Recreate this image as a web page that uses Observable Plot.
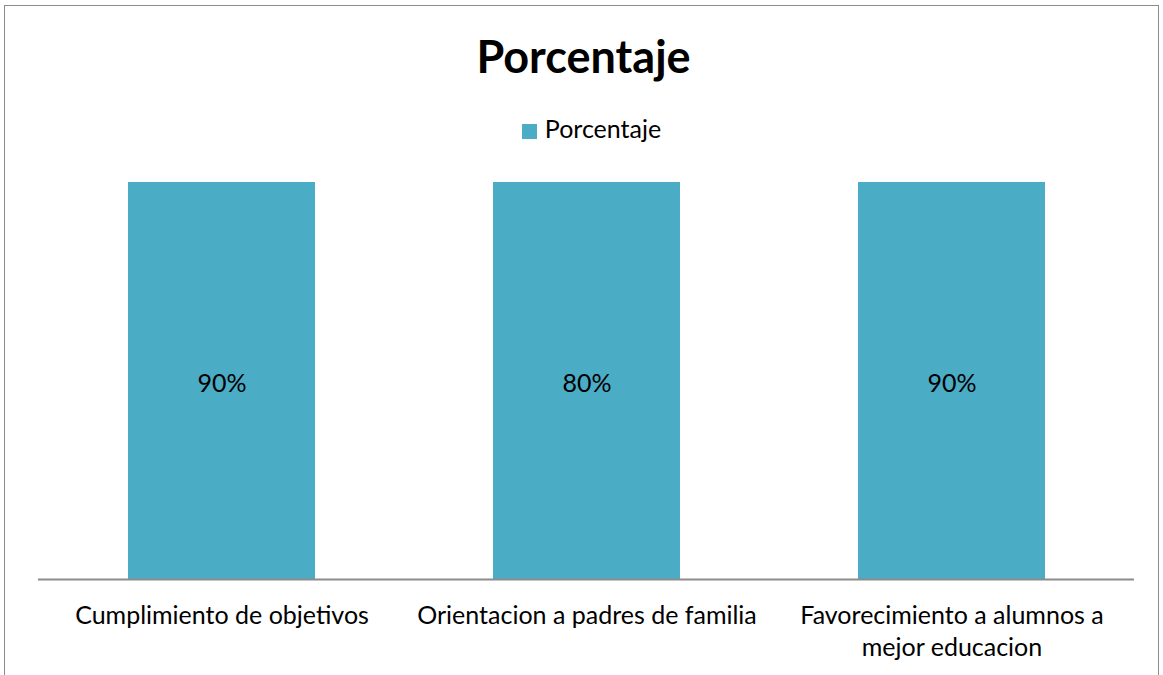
<!DOCTYPE html>
<html>
<head>
<meta charset="utf-8">
<script src="https://cdn.jsdelivr.net/npm/d3@7"></script>
<script src="https://cdn.jsdelivr.net/npm/@observablehq/plot@0.6"></script>
<style>
  html, body { margin: 0; padding: 0; background: #fff; }
  #frame { position: relative; width: 1163px; height: 675px; overflow: hidden; font-family: Lato, "Open Sans", sans-serif; }
  #border { position: absolute; left: 4px; top: 5px; width: 1155px; height: 700px; border: 1px solid #8c8c8c; box-sizing: border-box; }
  #title { position: absolute; left: 0; width: 1163px; top: 28px; text-align: center; font-weight: bold; font-size: 45px; line-height: 56px; color: #000; padding-left: 2px; }
  #legend { position: absolute; left: 0; width: 1163px; top: 113px; text-align: center; font-size: 25px; line-height: 30px; color: #000; padding-left: 10px; }
  #legend .sw { display: inline-block; width: 15px; height: 15px; background: #4BACC6; margin-right: 8px; vertical-align: -1px; }
  #chart { position: absolute; left: 0; top: 160px; }
</style>
</head>
<body>
<div id="frame">
  <div id="border"></div>
  <div id="title"></div>
  <div id="legend"></div>
  <div id="chart"></div>
</div>
<script>
const titulo = "Porcentaje";
const serie = "Porcentaje";
const categorias = ["Cumplimiento de objetivos", "Orientacion a padres de familia", "Favorecimiento a alumnos a\nmejor educacion"];
const alturas = [100, 100, 100];
const etiquetas = ["90%", "80%", "90%"];
const color = "#4BACC6";

const data = categorias.map((c, i) => ({cat: c, h: alturas[i], label: etiquetas[i]}));

document.getElementById("title").textContent = titulo;
document.getElementById("legend").innerHTML = '<span class="sw"></span>' + serie;

const chart = Plot.plot({
  width: 1163,
  height: 515,
  marginLeft: 38,
  marginRight: 29,
  marginTop: 22,
  marginBottom: 96,
  style: {fontFamily: "Lato, 'Open Sans', sans-serif", fontSize: "25px", color: "#000", background: "transparent"},
  x: {domain: categorias, paddingInner: 0.488, paddingOuter: 0.244, label: null},
  y: {domain: [0, 100], axis: null},
  marks: [
    Plot.barY(data, {x: "cat", y: "h", fill: color}),
    Plot.text(data, {x: "cat", y: d => d.h / 2, text: "label", fill: "#000", fontSize: 25, dy: 3}),
    Plot.ruleY([0], {stroke: "#8c8c8c", strokeWidth: 2}),
    Plot.axisX({tickSize: 0, tickPadding: 21, fontSize: 25, lineHeight: 1.3, label: null, fill: "#000"})
  ]
});
document.getElementById("chart").appendChild(chart);
</script>
</body>
</html>
